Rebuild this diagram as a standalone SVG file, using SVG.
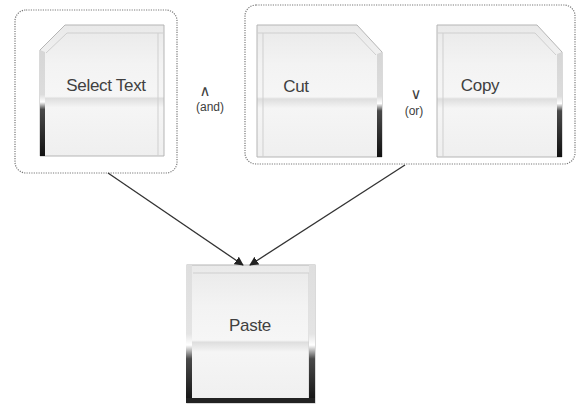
<svg xmlns="http://www.w3.org/2000/svg" width="579" height="405" viewBox="0 0 579 405">
<defs>
<linearGradient id="face" x1="0" y1="0" x2="0" y2="1">
<stop offset="0" stop-color="#e9e9e9"/>
<stop offset="0.3" stop-color="#f3f3f3"/>
<stop offset="0.545" stop-color="#f6f6f6"/>
<stop offset="0.56" stop-color="#dedede"/>
<stop offset="0.63" stop-color="#f5f5f5"/>
<stop offset="1" stop-color="#efefef"/>
</linearGradient>
<linearGradient id="strip" x1="0" y1="0" x2="0" y2="1">
<stop offset="0" stop-color="#d6d6d6"/>
<stop offset="0.42" stop-color="#dcdcdc"/>
<stop offset="0.49" stop-color="#ffffff"/>
<stop offset="0.56" stop-color="#4a4a4a"/>
<stop offset="1" stop-color="#111111"/>
</linearGradient>
<linearGradient id="strip2" x1="0" y1="0" x2="0" y2="1">
<stop offset="0" stop-color="#dedede"/>
<stop offset="0.5" stop-color="#e4e4e4"/>
<stop offset="0.58" stop-color="#ffffff"/>
<stop offset="0.68" stop-color="#4a4a4a"/>
<stop offset="1" stop-color="#111111"/>
</linearGradient>
<marker id="arr" viewBox="0 0 10 10" refX="9" refY="5" markerWidth="9" markerHeight="9" markerUnits="userSpaceOnUse" orient="auto">
<path d="M0,0 L10,5 L0,10 z" fill="#222"/>
</marker>
</defs>
<style>
.grp{fill:none;stroke:#7a7a7a;stroke-width:1.2;stroke-dasharray:1.2 1.2}
.card{fill:url(#face);stroke:#b5b5b5;stroke-width:1}
.inner{fill:none;stroke:#cfcfcf;stroke-width:1}
.lbl{font-family:"Liberation Sans",Arial,sans-serif;font-size:17px;fill:#404040;text-anchor:middle;letter-spacing:-0.3px}
.op{font-family:"Liberation Sans",Arial,sans-serif;font-size:12px;fill:#404040;text-anchor:middle}
.sym{font-family:"DejaVu Sans",sans-serif;font-size:15px;fill:#404040;text-anchor:middle}
.conn{stroke:#333;stroke-width:1.3;fill:none}
</style>
<rect width="579" height="405" fill="#ffffff"/>

<g id="group-and">
<rect class="grp" x="15" y="10" width="162" height="163" rx="11"/>
</g>
<g id="group-or">
<rect class="grp" x="245" y="5" width="330" height="159" rx="11"/>
</g>

<g id="select-text">
<path class="card" d="M40,50 L65,25 L164,25 L164,156 L40,156 Z"/>
<path class="inner" d="M46,53 L67,33 L164,33"/>
<line class="inner" x1="158" y1="33" x2="158" y2="156" stroke="#e2e2e2"/>
<path d="M40,50 L45,52 L45,156 L40,156 Z" fill="url(#strip)"/>
<text class="lbl" x="106" y="91">Select Text</text>
</g>

<g id="and-label">
<text class="sym" x="205" y="96">∧</text>
<text class="op" x="210" y="111">(and)</text>
</g>

<g id="cut">
<path class="card" d="M257,25 L357,25 L382,52 L382,157 L257,157 Z"/>
<path class="inner" d="M257,33 L355,33 L376,55"/>
<line class="inner" x1="263" y1="33" x2="263" y2="157" stroke="#e2e2e2"/>
<path d="M382,52 L377,54 L377,157 L382,157 Z" fill="url(#strip)"/>
<text class="lbl" x="296" y="92">Cut</text>
</g>

<g id="or-label">
<text class="sym" x="416" y="99">∨</text>
<text class="op" x="414" y="115">(or)</text>
</g>

<g id="copy">
<path class="card" d="M437,25 L537,25 L562,52 L562,157 L437,157 Z"/>
<path class="inner" d="M437,33 L535,33 L556,55"/>
<line class="inner" x1="443" y1="33" x2="443" y2="157" stroke="#e2e2e2"/>
<path d="M562,52 L557,54 L557,157 L562,157 Z" fill="url(#strip)"/>
<text class="lbl" x="480" y="91">Copy</text>
</g>

<g id="paste">
<rect class="card" x="187" y="265" width="128" height="138"/>
<path class="inner" d="M193,273 L315,273"/>
<line class="inner" x1="309" y1="273" x2="309" y2="398" stroke="#e2e2e2"/>
<rect x="186" y="265" width="6" height="138" fill="url(#strip2)"/>
<rect x="309" y="265" width="6" height="138" fill="url(#strip2)"/>
<rect x="186" y="398" width="129" height="5" fill="#222"/>
<text class="lbl" x="250" y="331">Paste</text>
</g>

<g id="connectors">
<line class="conn" x1="108" y1="173" x2="243" y2="265" marker-end="url(#arr)"/>
<line class="conn" x1="405" y1="165" x2="250" y2="265" marker-end="url(#arr)"/>
</g>
</svg>
